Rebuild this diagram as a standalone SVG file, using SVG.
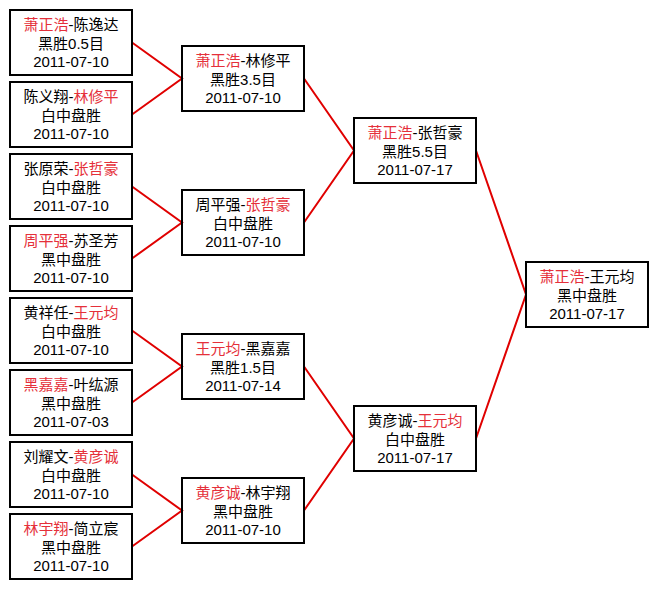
<svg xmlns="http://www.w3.org/2000/svg" width="659" height="589" viewBox="0 0 659 589">
<style>
.bg{fill:#ffffff}
.box rect{fill:none;stroke:#000;stroke-width:2}
.box text{font-family:"Liberation Sans","Noto Sans CJK SC",sans-serif;font-size:15px;fill:#000;text-anchor:middle}
.box .r{fill:#e5303a}
.conn polyline{fill:none;stroke:#e00000;stroke-width:2}
</style>
<rect class="bg" x="0" y="0" width="659" height="589"/>
<g id="connectors" class="conn">
<polyline points="132,42.5 182,78.5 132,114.5"/>
<polyline points="132,186.5 182,222.5 132,258.5"/>
<polyline points="132,330.5 182,366.5 132,402.5"/>
<polyline points="132,474.5 182,510.5 132,546.5"/>
<polyline points="304,78.5 354,150.5 304,222.5"/>
<polyline points="304,366.5 354,438.5 304,510.5"/>
<polyline points="476,150.5 526,294.5 476,438.5"/>
</g>
<g id="leaf1" class="box"><rect x="10" y="10" width="122" height="65"/>
<text x="71" y="30"><tspan class="r">萧正浩</tspan>-陈逸达</text><text x="71" y="48.5">黑胜0.5目</text><text x="71" y="67">2011-07-10</text></g>
<g id="leaf2" class="box"><rect x="10" y="82" width="122" height="65"/>
<text x="71" y="102">陈义翔-<tspan class="r">林修平</tspan></text><text x="71" y="120.5">白中盘胜</text><text x="71" y="139">2011-07-10</text></g>
<g id="leaf3" class="box"><rect x="10" y="154" width="122" height="65"/>
<text x="71" y="174">张原荣-<tspan class="r">张哲豪</tspan></text><text x="71" y="192.5">白中盘胜</text><text x="71" y="211">2011-07-10</text></g>
<g id="leaf4" class="box"><rect x="10" y="226" width="122" height="65"/>
<text x="71" y="246"><tspan class="r">周平强</tspan>-苏圣芳</text><text x="71" y="264.5">黑中盘胜</text><text x="71" y="283">2011-07-10</text></g>
<g id="leaf5" class="box"><rect x="10" y="298" width="122" height="65"/>
<text x="71" y="318">黄祥任-<tspan class="r">王元均</tspan></text><text x="71" y="336.5">白中盘胜</text><text x="71" y="355">2011-07-10</text></g>
<g id="leaf6" class="box"><rect x="10" y="370" width="122" height="65"/>
<text x="71" y="390"><tspan class="r">黑嘉嘉</tspan>-叶纮源</text><text x="71" y="408.5">黑中盘胜</text><text x="71" y="427">2011-07-03</text></g>
<g id="leaf7" class="box"><rect x="10" y="442" width="122" height="65"/>
<text x="71" y="462">刘耀文-<tspan class="r">黄彦诚</tspan></text><text x="71" y="480.5">白中盘胜</text><text x="71" y="499">2011-07-10</text></g>
<g id="leaf8" class="box"><rect x="10" y="514" width="122" height="65"/>
<text x="71" y="534"><tspan class="r">林宇翔</tspan>-简立宸</text><text x="71" y="552.5">黑中盘胜</text><text x="71" y="571">2011-07-10</text></g>
<g id="semi1" class="box"><rect x="182" y="46" width="122" height="65"/>
<text x="243" y="66"><tspan class="r">萧正浩</tspan>-林修平</text><text x="243" y="84.5">黑胜3.5目</text><text x="243" y="103">2011-07-10</text></g>
<g id="semi2" class="box"><rect x="182" y="190" width="122" height="65"/>
<text x="243" y="210">周平强-<tspan class="r">张哲豪</tspan></text><text x="243" y="228.5">白中盘胜</text><text x="243" y="247">2011-07-10</text></g>
<g id="semi3" class="box"><rect x="182" y="334" width="122" height="65"/>
<text x="243" y="354"><tspan class="r">王元均</tspan>-黑嘉嘉</text><text x="243" y="372.5">黑胜1.5目</text><text x="243" y="391">2011-07-14</text></g>
<g id="semi4" class="box"><rect x="182" y="478" width="122" height="65"/>
<text x="243" y="498"><tspan class="r">黄彦诚</tspan>-林宇翔</text><text x="243" y="516.5">黑中盘胜</text><text x="243" y="535">2011-07-10</text></g>
<g id="final1" class="box"><rect x="354" y="118" width="122" height="65"/>
<text x="415" y="138"><tspan class="r">萧正浩</tspan>-张哲豪</text><text x="415" y="156.5">黑胜5.5目</text><text x="415" y="175">2011-07-17</text></g>
<g id="final2" class="box"><rect x="354" y="406" width="122" height="65"/>
<text x="415" y="426">黄彦诚-<tspan class="r">王元均</tspan></text><text x="415" y="444.5">白中盘胜</text><text x="415" y="463">2011-07-17</text></g>
<g id="champion" class="box"><rect x="526" y="262" width="122" height="65"/>
<text x="587" y="282"><tspan class="r">萧正浩</tspan>-王元均</text><text x="587" y="300.5">黑中盘胜</text><text x="587" y="319">2011-07-17</text></g>
</svg>
